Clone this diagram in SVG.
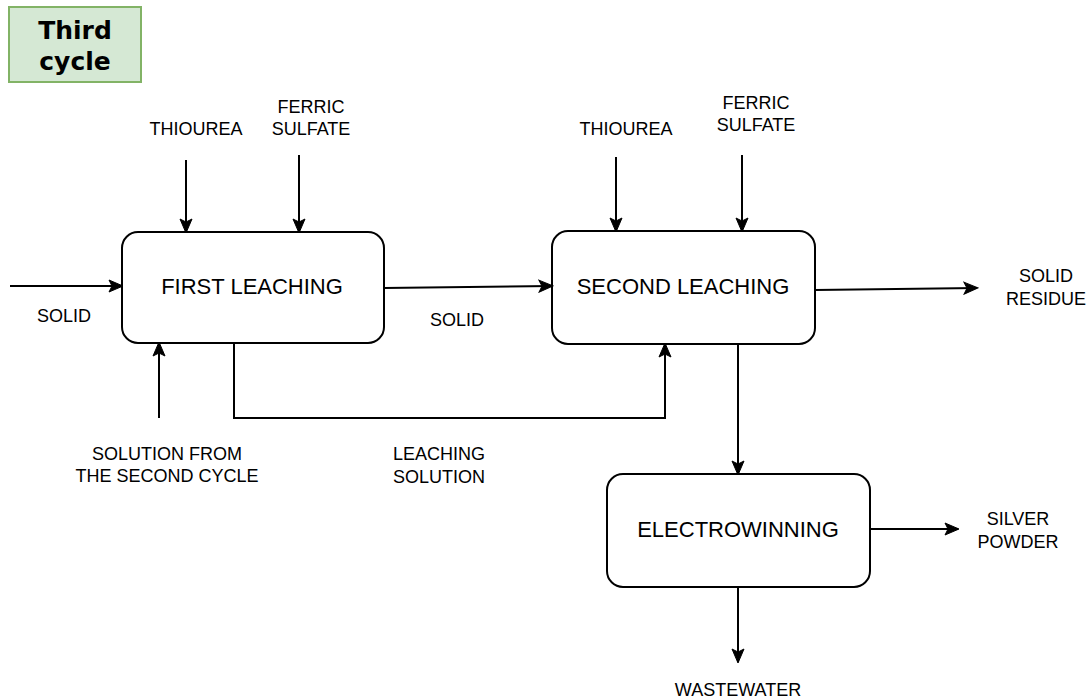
<svg xmlns="http://www.w3.org/2000/svg" width="1092" height="700" viewBox="0 0 1092 700">
  <style>
    .box { fill: #ffffff; stroke: #000000; stroke-width: 2; }
    .lbl { font-family: "Liberation Sans", Arial, sans-serif; font-size: 18px; fill: #000000; text-anchor: middle; }
    .name { font-family: "Liberation Sans", Arial, sans-serif; font-size: 22px; fill: #000000; text-anchor: middle; }
    .edge { fill: none; stroke: #000000; stroke-width: 2; marker-end: url(#arrow); }
  </style>
  <defs>
    <marker id="arrow" markerUnits="userSpaceOnUse" markerWidth="16" markerHeight="14" refX="14" refY="7" orient="auto">
      <path d="M1,1 L15,7 L1,13 L4,7 Z" fill="#000000" stroke="#000000" stroke-width="1"/>
    </marker>
  </defs>
  <rect width="1092" height="700" fill="#ffffff"/>

  <!-- cycle tag -->
  <g id="cycle-tag">
    <rect x="9" y="7" width="132" height="75" fill="#d5e8d4" stroke="#82b366" stroke-width="2"/>
    <text x="75" y="39" font-family="'DejaVu Sans', Verdana, sans-serif" font-weight="bold" font-size="25" text-anchor="middle">Third</text>
    <text x="75" y="70" font-family="'DejaVu Sans', Verdana, sans-serif" font-weight="bold" font-size="25" text-anchor="middle">cycle</text>
  </g>

  <!-- process steps -->
  <g id="first-leaching">
    <rect class="box" x="122" y="232" width="262" height="111" rx="16"/>
    <text class="name" x="252" y="294">FIRST LEACHING</text>
  </g>
  <g id="second-leaching">
    <rect class="box" x="552" y="231" width="263" height="113" rx="16"/>
    <text class="name" x="683" y="294">SECOND LEACHING</text>
  </g>
  <g id="electrowinning">
    <rect class="box" x="607" y="474" width="263" height="113" rx="16"/>
    <text class="name" x="738" y="537">ELECTROWINNING</text>
  </g>

  <!-- flows -->
  <g id="connectors">
    <line class="edge" x1="10" y1="286" x2="122" y2="286"/>
    <line class="edge" x1="186" y1="160" x2="186" y2="232"/>
    <line class="edge" x1="299" y1="155" x2="299" y2="232"/>
    <line class="edge" x1="384" y1="288" x2="552" y2="286"/>
    <line class="edge" x1="616" y1="157" x2="616" y2="231"/>
    <line class="edge" x1="742" y1="155" x2="742" y2="231"/>
    <line class="edge" x1="815" y1="290" x2="977" y2="288"/>
    <line class="edge" x1="159" y1="418" x2="159" y2="343"/>
    <polyline class="edge" points="234,343 234,418 665,418 665,344"/>
    <line class="edge" x1="738" y1="344" x2="738" y2="474"/>
    <line class="edge" x1="870" y1="529" x2="958" y2="529"/>
    <line class="edge" x1="738" y1="587" x2="738" y2="662"/>
  </g>

  <!-- stream labels -->
  <g id="labels">
    <text class="lbl" x="64" y="322">SOLID</text>
    <text class="lbl" x="196" y="135">THIOUREA</text>
    <text class="lbl" x="311" y="113">FERRIC</text>
    <text class="lbl" x="311" y="135">SULFATE</text>
    <text class="lbl" x="457" y="326">SOLID</text>
    <text class="lbl" x="626" y="135">THIOUREA</text>
    <text class="lbl" x="756" y="109">FERRIC</text>
    <text class="lbl" x="756" y="131">SULFATE</text>
    <text class="lbl" x="1046" y="282">SOLID</text>
    <text class="lbl" x="1046" y="305">RESIDUE</text>
    <text class="lbl" x="167" y="460">SOLUTION FROM</text>
    <text class="lbl" x="167" y="482">THE SECOND CYCLE</text>
    <text class="lbl" x="439" y="460">LEACHING</text>
    <text class="lbl" x="439" y="483">SOLUTION</text>
    <text class="lbl" x="1018" y="525">SILVER</text>
    <text class="lbl" x="1018" y="548">POWDER</text>
    <text class="lbl" x="738" y="696">WASTEWATER</text>
  </g>
</svg>
